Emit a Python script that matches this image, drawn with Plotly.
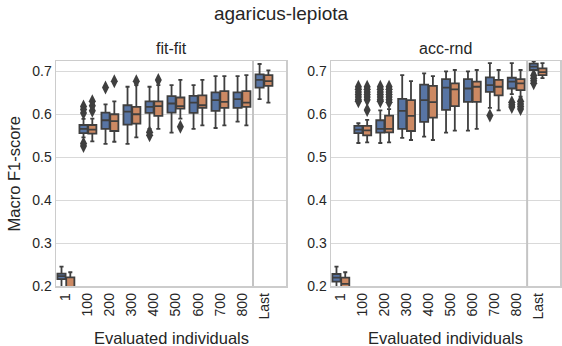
import plotly.graph_objects as go

categories = ["1", "100", "200", "300", "400", "500", "600", "700", "800", "Last"]
panels = ["fit-fit", "acc-rnd"]

# ---- fit-fit ----
ff_a_q1 = [0.216, 0.556, 0.566, 0.576, 0.603, 0.604, 0.603, 0.608, 0.615, 0.662]
ff_a_med = [0.223, 0.566, 0.586, 0.606, 0.617, 0.625, 0.627, 0.633, 0.635, 0.680]
ff_a_q3 = [0.229, 0.575, 0.604, 0.621, 0.630, 0.642, 0.643, 0.651, 0.651, 0.693]
ff_a_lo = [0.190, 0.546, 0.531, 0.531, 0.566, 0.557, 0.566, 0.568, 0.583, 0.635]
ff_a_hi = [0.245, 0.589, 0.623, 0.664, 0.664, 0.668, 0.668, 0.689, 0.689, 0.717]
ff_a_out = {1: [0.618, 0.611, 0.603, 0.532, 0.526], 2: [0.662], 4: [0.558, 0.551]}

ff_b_q1 = [0.190, 0.555, 0.561, 0.578, 0.596, 0.613, 0.615, 0.615, 0.617, 0.666]
ff_b_med = [0.196, 0.564, 0.584, 0.600, 0.619, 0.619, 0.621, 0.629, 0.627, 0.677]
ff_b_q3 = [0.220, 0.575, 0.600, 0.617, 0.630, 0.639, 0.644, 0.654, 0.654, 0.691]
ff_b_lo = [0.185, 0.537, 0.536, 0.546, 0.566, 0.590, 0.574, 0.574, 0.574, 0.627]
ff_b_hi = [0.232, 0.590, 0.630, 0.668, 0.668, 0.680, 0.680, 0.689, 0.691, 0.702]
ff_b_out = {1: [0.630, 0.620, 0.608], 2: [0.677], 3: [0.677], 4: [0.680], 5: [0.571]}

# ---- acc-rnd ----
ar_a_q1 = [0.210, 0.556, 0.557, 0.566, 0.582, 0.610, 0.629, 0.652, 0.660, 0.703]
ar_a_med = [0.2195, 0.564, 0.566, 0.608, 0.633, 0.662, 0.660, 0.668, 0.676, 0.711]
ar_a_q3 = [0.228, 0.573, 0.586, 0.636, 0.669, 0.682, 0.682, 0.686, 0.685, 0.718]
ar_a_lo = [0.190, 0.533, 0.533, 0.545, 0.548, 0.557, 0.562, 0.615, 0.647, 0.695]
ar_a_hi = [0.245, 0.579, 0.609, 0.691, 0.695, 0.700, 0.700, 0.719, 0.719, 0.723]
ar_a_out = {1: [0.664, 0.658, 0.652, 0.646, 0.640, 0.634, 0.630],
            2: [0.664, 0.658, 0.652, 0.646, 0.640, 0.634, 0.630],
            7: [0.597], 8: [0.628, 0.622, 0.617],
            9: [0.690, 0.684, 0.678, 0.672]}

ar_b_q1 = [0.190, 0.551, 0.558, 0.561, 0.592, 0.619, 0.629, 0.644, 0.656, 0.691]
ar_b_med = [0.205, 0.5625, 0.566, 0.596, 0.628, 0.658, 0.664, 0.664, 0.672, 0.698]
ar_b_q3 = [0.2195, 0.573, 0.597, 0.633, 0.666, 0.672, 0.676, 0.680, 0.682, 0.707]
ar_b_lo = [0.185, 0.5345, 0.5345, 0.540, 0.540, 0.562, 0.566, 0.609, 0.641, 0.684]
ar_b_hi = [0.232, 0.587, 0.612, 0.677, 0.689, 0.703, 0.703, 0.703, 0.703, 0.719]
ar_b_out = {1: [0.664, 0.658, 0.652, 0.646, 0.640, 0.634, 0.610],
            2: [0.664, 0.658, 0.652, 0.646, 0.640, 0.634, 0.628],
            8: [0.630, 0.624, 0.618, 0.612]}

BLUE = "#5875a4"
ORANGE = "#cc8963"
LINE = "#3f3f3f"
TXT = "#262626"
FONT = "Liberation Sans, Arial, sans-serif"

series = [
    (0, -0.2, BLUE, ff_a_q1, ff_a_med, ff_a_q3, ff_a_lo, ff_a_hi, ff_a_out),
    (0, 0.2, ORANGE, ff_b_q1, ff_b_med, ff_b_q3, ff_b_lo, ff_b_hi, ff_b_out),
    (1, -0.2, BLUE, ar_a_q1, ar_a_med, ar_a_q3, ar_a_lo, ar_a_hi, ar_a_out),
    (1, 0.2, ORANGE, ar_b_q1, ar_b_med, ar_b_q3, ar_b_lo, ar_b_hi, ar_b_out),
]

fig = go.Figure()
for p, off, col, q1, med, q3, lo, hi, outs in series:
    xa = "x" if p == 0 else "x2"
    ya = "y" if p == 0 else "y2"
    pos = [i + off for i in range(len(categories))]
    fig.add_trace(go.Box(
        x=pos, q1=q1, median=med, q3=q3, lowerfence=lo, upperfence=hi,
        width=0.37, whiskerwidth=0.5, fillcolor=col,
        line=dict(color=LINE, width=1.8),
        boxpoints=False, showlegend=False, xaxis=xa, yaxis=ya,
    ))
    ox, oy = [], []
    for idx, vals in outs.items():
        for v in vals:
            ox.append(idx + off)
            oy.append(v)
    fig.add_trace(go.Scatter(
        x=ox, y=oy, mode="markers", showlegend=False, xaxis=xa, yaxis=ya,
        marker=dict(symbol="diamond-tall", size=10, color=LINE,
                    line=dict(width=0)),
    ))

W, H = 562, 346
PL, PR, PT, PB = 56, 560, 61, 286          # plot area box in window pixels
L, R, T, B = PL, W - PR, PT, H - PB
pw = W - L - R
ph = H - T - B

def px_x(ax):
    return (ax - PL) / pw

def px_y(ay):
    return (PB - ay) / ph

d1 = [0, px_x(286)]
d2 = [px_x(331), 1.0]

xcommon = dict(range=[-0.45, 10.0], tickmode="array",
               tickvals=list(range(len(categories))), ticktext=categories,
               tickangle=-90, showgrid=False, zeroline=False,
               showline=True, mirror=True, linecolor="#cccccc", linewidth=1.5,
               ticks="", tickfont=dict(family=FONT, size=14, color=TXT))
ycommon = dict(range=[0.2, 0.724], tick0=0.2, dtick=0.1, tickformat=".1f",
               showgrid=True, gridcolor="#d9d9d9", gridwidth=1, zeroline=False,
               showline=True, mirror=True, linecolor="#cccccc", linewidth=1.5,
               ticks="", tickfont=dict(family=FONT, size=14, color=TXT))

fig.update_layout(
    width=W, height=H,
    margin=dict(l=L, r=R, t=T, b=B, pad=0, autoexpand=False),
    paper_bgcolor="white", plot_bgcolor="white",
    boxmode="overlay",
    xaxis=dict(domain=d1, anchor="y", automargin=False, **xcommon),
    xaxis2=dict(domain=d2, anchor="y2", automargin=False, **xcommon),
    yaxis=dict(domain=[0, 1], anchor="x", automargin=False, **ycommon),
    yaxis2=dict(domain=[0, 1], anchor="x2", matches="y", automargin=False, **ycommon),
    title=dict(text="agaricus-lepiota", x=0.5, xanchor="center",
               y=1 - 13 / H, yanchor="middle", yref="container",
               font=dict(family=FONT, size=19, color=TXT)),
    font=dict(family=FONT, color=TXT),
)

for p, name in enumerate(panels):
    dom = d1 if p == 0 else d2
    cx = (dom[0] + dom[1]) / 2
    fig.add_annotation(text=name, x=cx, y=px_y(48), xref="paper", yref="paper",
                       showarrow=False, xanchor="center", yanchor="middle",
                       font=dict(family=FONT, size=16, color=TXT))
    fig.add_annotation(text="Evaluated individuals", x=cx, y=px_y(338),
                       xref="paper", yref="paper", showarrow=False,
                       xanchor="center", yanchor="middle",
                       font=dict(family=FONT, size=16.5, color=TXT))
    fig.add_shape(type="line", x0=8.5, x1=8.5, y0=0, y1=1,
                  xref="x" if p == 0 else "x2",
                  yref="y domain" if p == 0 else "y2 domain",
                  line=dict(color="#c4c4c4", width=2), layer="above")

fig.add_annotation(text="Macro F1-score", x=px_x(13), y=0.5, xref="paper", yref="paper",
                   showarrow=False, textangle=-90, xanchor="center", yanchor="middle",
                   font=dict(family=FONT, size=16.5, color=TXT))

fig.write_html(
    "out.html",
    config={"displayModeBar": False, "staticPlot": True},
    post_script="document.body.style.margin='0';document.body.style.overflow='hidden';",
)
